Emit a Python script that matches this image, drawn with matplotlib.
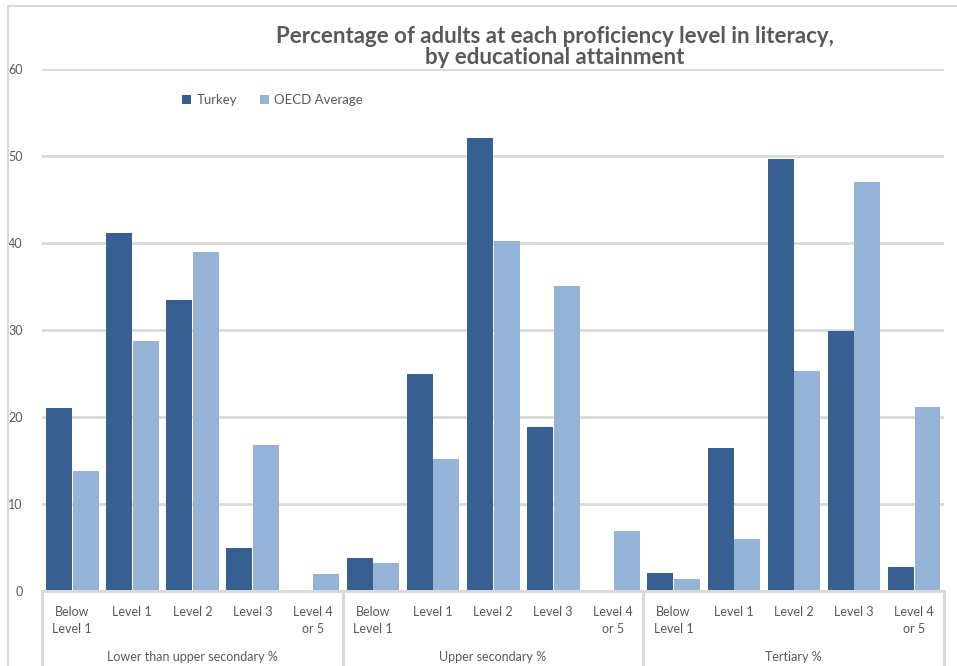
import numpy as np
import matplotlib.pyplot as plt
from matplotlib.patches import Rectangle

plt.rcParams['font.family'] = ['Lato', 'DejaVu Sans']

levels = ['Below\nLevel 1', 'Level 1', 'Level 2', 'Level 3', 'Level 4\nor 5']
groups = ['Lower than upper secondary %', 'Upper secondary %', 'Tertiary %']

turkey = [21.0, 41.1, 33.5, 4.9, 0,
          3.8, 24.9, 52.1, 18.9, 0,
          2.1, 16.4, 49.7, 29.9, 2.8]
oecd = [13.8, 28.7, 39.0, 16.8, 1.9,
        3.2, 15.2, 40.2, 35.1, 6.9,
        1.4, 6.0, 25.3, 47.0, 21.1]

c_turkey = '#375F91'
c_oecd = '#95B3D7'
c_grid = '#D9D9D9'
c_text = '#595959'

fig = plt.figure(figsize=(9.57, 6.66), dpi=100)
ax = fig.add_axes([0.0439, 0.1126, 0.9425, 0.7838])

x = np.arange(len(turkey))
w = 0.432
ax.bar(x - w / 2, turkey, w, color=c_turkey, label='Turkey', zorder=3)
ax.bar(x + w / 2 + 0.01, oecd, w, color=c_oecd, label='OECD Average', zorder=3)

ax.set_xlim(-0.5, len(x) - 0.5)
ax.set_ylim(0, 60)
ax.set_yticks(range(0, 61, 10))
ax.yaxis.grid(True, color=c_grid, linewidth=2, zorder=0)
ax.tick_params(axis='y', length=0, labelsize=9, labelcolor=c_text, pad=14)
ax.tick_params(axis='x', length=0)
ax.set_xticks([])
for s in ax.spines.values():
    s.set_visible(False)

# category axis: baseline, group separators and labels
xt = ax.get_xaxis_transform()
ax.plot([-0.5, len(x) - 0.5], [0, 0], transform=xt, color=c_grid,
        linewidth=2.2, clip_on=False, zorder=4)
for b in [-0.5, 4.5, 9.5, 14.5]:
    ax.plot([b, b], [0, -0.16], transform=xt, color=c_grid,
            linewidth=2.2, clip_on=False, zorder=4)
for i in x:
    ax.text(i, -0.028, levels[i % 5], transform=xt, ha='center', va='top',
            fontsize=9, color=c_text, linespacing=1.5)
for g, name in enumerate(groups):
    ax.text(g * 5 + 2, -0.126, name, transform=xt, ha='center', va='center',
            fontsize=9, color=c_text)

fig.text(0.58, 0.929, 'Percentage of adults at each proficiency level in literacy,\nby educational attainment',
         ha='center', va='center', fontsize=16, fontweight='bold', color=c_text,
         linespacing=1.02)

ax.legend(loc='upper left', bbox_to_anchor=(0.142, 0.975), ncol=2, frameon=False,
          fontsize=9.5, labelcolor=c_text, handlelength=0.7, handleheight=0.7,
          handletextpad=0.4, columnspacing=1.7)

# chart border (left and top visible)
fig.add_artist(Rectangle((8 / 957, -0.1), 1.2, 1 - 6 / 666 + 0.1, transform=fig.transFigure,
                         fill=False, edgecolor=c_grid, linewidth=1.5))

fig.savefig('out.png', dpi=100)
